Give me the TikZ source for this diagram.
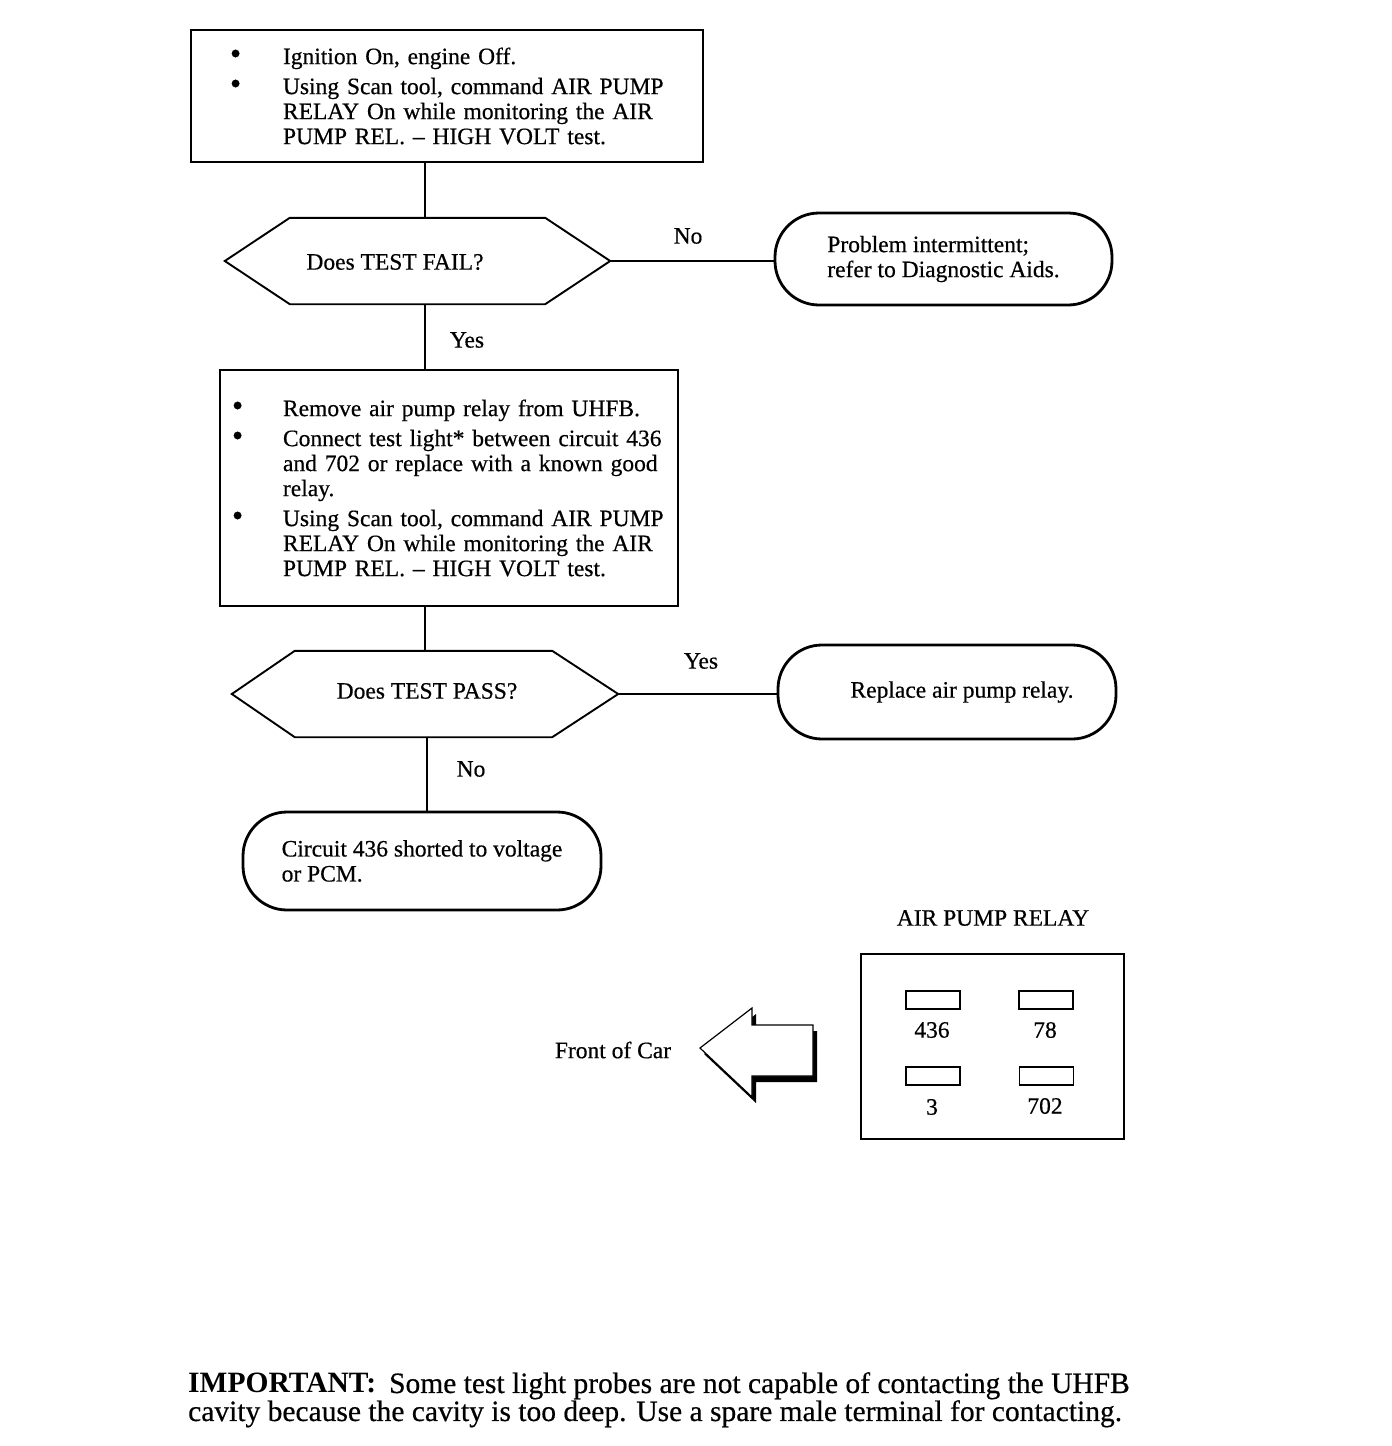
\documentclass[tikz,border=0pt]{standalone}
\usepackage{fontspec}
\setmainfont{Liberation Serif}[UprightFeatures={FakeBold=0.5}]
\usetikzlibrary{calc}
\newlength\bw
\newcommand\bitem{\makebox[\bw][l]{\hspace*{6pt}\fontsize{32}{25}\selectfont\textbullet}}
\newcommand\bcont{\hspace*{\bw}}
\begin{document}
\begin{tikzpicture}[x=1pt,y=-1pt,
  every node/.style={font=\fontsize{23.5}{25}\selectfont},
  stepbox/.style={draw, line width=1.9pt, inner sep=0pt, align=left, text width=446pt},
  hexnode/.style={inner sep=0pt},
  hexline/.style={line width=1.9pt},
  ovalbox/.style={draw, line width=2.8pt, rounded corners=44pt, inner sep=0pt, align=left},
  conn/.style={line width=1.5pt},
  lbl/.style={inner sep=1pt},
  pinbox/.style={draw, line width=1.4pt, minimum width=54pt, minimum height=18pt, inner sep=0pt}
]
\useasboundingbox (0,0) rectangle (1392,1446);

% box 1
\node[stepbox, minimum width=512pt, minimum height=132pt, inner xsep=33pt] (box1) at (447,96)
{\setlength\bw{59pt}%
 \bitem Ignition On, engine Off.\\[5pt]
 \bitem Using Scan tool, command AIR PUMP\\
 \bcont RELAY On while monitoring the AIR\\
 \bcont PUMP REL. -- HIGH VOLT test.};

% decision 1
\node[hexnode, minimum width=385pt, minimum height=86pt] (d1) at (417.5,261) {};
\node at (395,262) {Does TEST FAIL?};
\draw[hexline] (d1.west) -- ($(d1.north west)+(65,0)$) -- ($(d1.north east)+(-65,0)$) -- (d1.east)
  -- ($(d1.south east)+(-65,0)$) -- ($(d1.south west)+(65,0)$) -- cycle;

% oval 1
\node[ovalbox, minimum width=337pt, minimum height=92pt] (o1) at (943.5,259)
{Problem intermittent;\\refer to Diagnostic Aids.};

% box 2
\node[stepbox, minimum width=458pt, minimum height=236pt, inner xsep=6pt] (box2) at (449,488)
{\setlength\bw{57pt}%
 \bitem Remove air pump relay from UHFB.\\[5pt]
 \bitem Connect test light* between circuit 436\\
 \bcont and 702 or replace with a known good\\
 \bcont relay.\\[5pt]
 \bitem Using Scan tool, command AIR PUMP\\
 \bcont RELAY On while monitoring the AIR\\
 \bcont PUMP REL. -- HIGH VOLT test.};

% decision 2
\node[hexnode, minimum width=386pt, minimum height=86pt] (d2) at (425,694) {};
\node at (427,691) {Does TEST PASS?};
\draw[hexline] (d2.west) -- ($(d2.north west)+(63,0)$) -- ($(d2.north east)+(-66,0)$) -- (d2.east)
  -- ($(d2.south east)+(-66,0)$) -- ($(d2.south west)+(63,0)$) -- cycle;

% oval 2
\node[ovalbox, minimum width=338pt, minimum height=94pt] (o2) at (947,692) {};
\node (o2t) at (962,692) {Replace air pump relay.};

% oval 3
\node[ovalbox, minimum width=358pt, minimum height=98pt] (o3) at (422,861)
{Circuit 436 shorted to voltage\\or PCM.};

% connectors
\coordinate (cx1) at (425,0);
\coordinate (cx2) at (427,0);
\draw[conn] (cx1 |- box1.south) -- (cx1 |- d1.north);
\draw[conn] (d1.east) -- (d1.east -| o1.west);
\node[lbl] (lno1) at (688,236) {No};
\draw[conn] (cx1 |- d1.south) -- (cx1 |- box2.north);
\node[lbl] (lyes1) at (467,340) {Yes};
\draw[conn] (cx1 |- box2.south) -- (cx1 |- d2.north);
\draw[conn] (d2.east) -- (d2.east -| o2.west);
\node[lbl] (lyes2) at (701,661) {Yes};
\draw[conn] (cx2 |- d2.south) -- (cx2 |- o3.north);
\node[lbl] (lno2) at (471,769) {No};

% relay diagram
\node (rtitle) at (993,918) {AIR PUMP RELAY};
\node[draw, line width=1.4pt, minimum width=263pt, minimum height=185pt] (relay) at (992.5,1046.5) {};
\node[pinbox] (p436) at (933,1000) {};
\node[pinbox] (p78) at (1046,1000) {};
\node[pinbox] (p3) at (933,1076) {};
\node[pinbox] (p702) at (1046.5,1076) {};
\node (l436) at (932,1030) {436};
\node (l78) at (1045,1030) {78};
\node (l3) at (932,1107) {3};
\node (l702) at (1045,1106) {702};

% front of car arrow
\node (foc) at (613,1050) {Front of Car};
\fill[black] ($(700,1048)+(4,6)$) -- ($(752,1008)+(4,6)$) -- ($(752,1025)+(4,6)$) -- ($(813,1025)+(4,6)$)
  -- ($(813,1076)+(4,6)$) -- ($(752,1076)+(4,6)$) -- ($(752,1097)+(4,6)$) -- cycle;
\draw[fill=white, line width=1.2pt] (700,1048) -- (752,1008) -- (752,1025) -- (813,1025)
  -- (813,1076) -- (752,1076) -- (752,1097) -- cycle;

% important note
\node[anchor=north west, inner sep=0pt, align=left, font=\fontsize{29.5}{28}\selectfont] (imp) at (188,1372)
{\textbf{IMPORTANT:}\hspace{13pt}Some test light probes are not capable of contacting the UHFB\\
cavity because the cavity is too deep. Use a spare male terminal for contacting.};
\end{tikzpicture}
\end{document}
